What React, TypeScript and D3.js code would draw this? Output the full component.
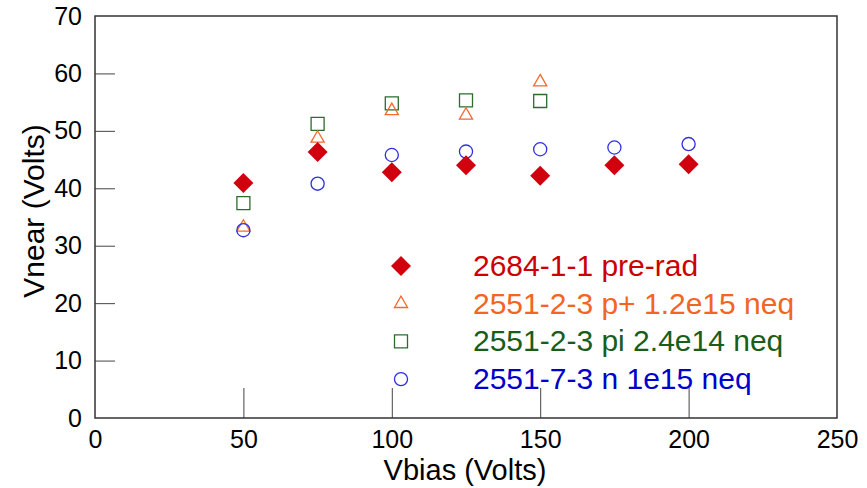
import React, { useRef, useEffect } from "react";
import * as d3 from "d3";

const xTicks = [0, 50, 100, 150, 200, 250];
const yTicks = [0, 10, 20, 30, 40, 50, 60, 70];

const vbiasAll = [50, 75, 100, 125, 150, 175, 200];
const vbiasShort = [50, 75, 100, 125, 150];

const preRad = [40.9, 46.3, 42.8, 44.0, 42.2, 44.0, 44.2];
const pPlus = [33.2, 48.7, 53.5, 52.7, 58.5];
const pion = [37.4, 51.2, 54.8, 55.3, 55.2];
const neutron = [32.7, 40.8, 45.8, 46.4, 46.8, 47.1, 47.7];

const seriesNames = [
  "2684-1-1 pre-rad",
  "2551-2-3 p+ 1.2e15 neq",
  "2551-2-3 pi 2.4e14 neq",
  "2551-7-3 n 1e15 neq",
];

const W = 867;
const H = 488;
const FONT = "'Liberation Sans', Arial, sans-serif";

const App = () => {
  const ref = useRef<SVGSVGElement>(null);

  useEffect(() => {
    const svg = d3.select(ref.current);
    svg.selectAll("*").remove();

    const margin = { top: 16, right: 30, bottom: 70, left: 95 };

    const x = d3
      .scaleLinear()
      .domain([0, 250])
      .range([margin.left, W - margin.right]);

    const y = d3
      .scaleLinear()
      .domain([0, 70])
      .range([H - margin.bottom, margin.top]);

    // y axis, ticks pointing inward
    const gy = svg
      .append("g")
      .attr("transform", `translate(${margin.left},0)`)
      .call(d3.axisLeft(y).tickValues(yTicks).tickSize(-20).tickPadding(13));
    gy.select(".domain").remove();
    gy.selectAll(".tick")
      .filter((d: any) => d === 0 || d === 70)
      .select("line")
      .remove();
    gy.selectAll("line").attr("stroke", "#444");
    gy.selectAll("text")
      .attr("font-family", FONT)
      .attr("font-size", 25)
      .attr("fill", "#000");

    // x axis
    const gx = svg
      .append("g")
      .attr("transform", `translate(0,${H - margin.bottom})`)
      .call(d3.axisBottom(x).tickValues(xTicks).tickSize(-30).tickPadding(12));
    gx.select(".domain").remove();
    gx.selectAll(".tick")
      .filter((d: any) => d === 0 || d === 250)
      .select("line")
      .remove();
    gx.selectAll("line").attr("stroke", "#444");
    gx.selectAll("text")
      .attr("font-family", FONT)
      .attr("font-size", 25)
      .attr("fill", "#000");

    // frame
    svg
      .append("rect")
      .attr("x", margin.left)
      .attr("y", margin.top)
      .attr("width", W - margin.right - margin.left)
      .attr("height", H - margin.bottom - margin.top)
      .attr("fill", "none")
      .attr("stroke", "#333")
      .attr("stroke-width", 1.5);

    // axis titles
    svg
      .append("text")
      .attr("text-anchor", "middle")
      .attr("x", 465)
      .attr("y", 480)
      .attr("font-family", FONT)
      .attr("font-size", 29)
      .text("Vbias (Volts)");

    svg
      .append("text")
      .attr("text-anchor", "middle")
      .attr("transform", "rotate(-90)")
      .attr("x", -211)
      .attr("y", 44)
      .attr("font-family", FONT)
      .attr("font-size", 30)
      .text("Vnear (Volts)");

    const sym = {
      diamond: d3.symbol().type(d3.symbolSquare).size(200)(),
      triangle: d3.symbol().type(d3.symbolTriangle).size(75)(),
      square: d3.symbol().type(d3.symbolSquare).size(169)(),
      circle: d3.symbol().type(d3.symbolCircle).size(135)(),
    };

    const series = [
      { name: seriesNames[0], xs: vbiasAll, ys: preRad, shape: sym.diamond, rot: 45, fill: "#d0000f", stroke: "none", text: "#cc0000" },
      { name: seriesNames[1], xs: vbiasShort, ys: pPlus, shape: sym.triangle, rot: 0, fill: "none", stroke: "#f26a30", text: "#f26522" },
      { name: seriesNames[2], xs: vbiasShort, ys: pion, shape: sym.square, rot: 0, fill: "none", stroke: "#2e6b2e", text: "#1a5c1a" },
      { name: seriesNames[3], xs: vbiasAll, ys: neutron, shape: sym.circle, rot: 0, fill: "none", stroke: "#3030dd", text: "#0000cc" },
    ];

    // draw order: squares, triangles, circles, diamonds
    [2, 1, 3, 0].forEach((i) => {
      const s = series[i];
      svg
        .append("g")
        .selectAll("path")
        .data(s.xs.map((v, j) => [v, s.ys[j]]))
        .join("path")
        .attr("d", s.shape)
        .attr("transform", (d) => `translate(${x(d[0])},${y(d[1])}) rotate(${s.rot})`)
        .attr("fill", s.fill)
        .attr("stroke", s.stroke)
        .attr("stroke-width", 1.3);
    });

    // legend
    const legend = svg.append("g").attr("transform", "translate(401,266)");
    series.forEach((s, i) => {
      const row = legend.append("g").attr("transform", `translate(0,${i * 37.7})`);
      row
        .append("path")
        .attr("d", s.shape)
        .attr("transform", `rotate(${s.rot})`)
        .attr("fill", s.fill)
        .attr("stroke", s.stroke)
        .attr("stroke-width", 1.3);
      row
        .append("text")
        .attr("x", 72)
        .attr("y", 10)
        .attr("font-family", FONT)
        .attr("font-size", 30)
        .attr("fill", s.text)
        .text(s.name);
    });
  }, []);

  return (
    <svg
      ref={ref}
      width={W}
      height={H}
      style={{ position: "absolute", left: 0, top: 0, background: "#fff" }}
    />
  );
};

export default App;
